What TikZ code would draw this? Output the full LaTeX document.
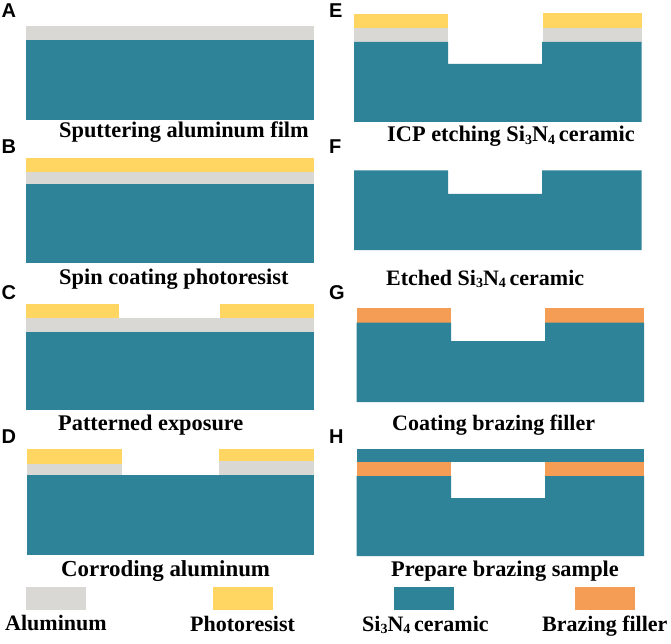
\documentclass[tikz,border=0pt]{standalone}
\usepackage{fontspec}
\setmainfont{Liberation Serif}
\newfontfamily\panelfont{Liberation Sans}
\definecolor{ceramic}{HTML}{2E8399}
\definecolor{alum}{HTML}{D9D8D4}
\definecolor{resist}{HTML}{FFD662}
\definecolor{filler}{HTML}{F59C55}
\newcommand{\lowsub}[1]{\raisebox{-0.12em}{\fontsize{14}{14}\selectfont #1}}
\tikzset{
  caption/.style={anchor=base west,inner sep=0pt,font=\fontsize{22}{22}\selectfont\bfseries},
  widecaption/.style={caption,font=\fontsize{22.35}{22}\selectfont\bfseries},
  widestcaption/.style={caption,font=\fontsize{22.9}{22}\selectfont\bfseries},
  panel/.style={anchor=base west,inner sep=0pt,font=\fontsize{20}{20}\selectfont\panelfont\bfseries},
}
\begin{document}
\begin{tikzpicture}[x=1pt,y=-1pt]
\useasboundingbox (0,0) rectangle (671,644);
% A
\fill[alum] (26,26) rectangle (313.5,40);
\fill[ceramic] (26,40) rectangle (313.5,120);
% B
\fill[resist] (26,158) rectangle (313.5,172);
\fill[alum] (26,172) rectangle (313.5,184);
\fill[ceramic] (26,184) rectangle (313.5,263);
% C
\fill[resist] (26,304) rectangle (119,318);
\fill[resist] (220,304) rectangle (313.5,318);
\fill[alum] (26,318) rectangle (313.5,332);
\fill[ceramic] (26,332) rectangle (313.5,410);
% D
\fill[resist] (26.5,449) rectangle (122,464);
\fill[resist] (219,449) rectangle (314,461);
\fill[alum] (26.5,464) rectangle (122,475);
\fill[alum] (219,461) rectangle (314,475);
\fill[ceramic] (26.5,475) rectangle (314,555);
% E
\fill[resist] (354,14.5) rectangle (448,28.5);
\fill[resist] (542.5,13) rectangle (641.5,28);
\fill[alum] (354,28.5) rectangle (448,42);
\fill[alum] (542.5,28) rectangle (641.5,42);
\fill[ceramic] (354,42) -- (448,42) -- (448,64) -- (542,64) -- (542,42) -- (641.5,42) -- (641.5,122) -- (354,122) -- cycle;
% F
\fill[ceramic] (354,170.5) -- (448,170.5) -- (448,194) -- (542,194) -- (542,170.5) -- (641.5,170.5) -- (641.5,250) -- (354,250) -- cycle;
% G
\fill[filler] (356.5,308) rectangle (451,322.5);
\fill[filler] (545,308) rectangle (644,322.5);
\fill[ceramic] (356.5,322.5) -- (451,322.5) -- (451,341) -- (545,341) -- (545,322.5) -- (644,322.5) -- (644,402) -- (356.5,402) -- cycle;
% H
\fill[ceramic] (356.5,448.5) rectangle (644,462);
\fill[filler] (356.5,462) rectangle (451,476);
\fill[filler] (545,462) rectangle (644,476);
\fill[ceramic] (356.5,476) -- (451,476) -- (451,498) -- (545,498) -- (545,476) -- (644,476) -- (644,556) -- (356.5,556) -- cycle;
% legend
\fill[alum] (26,587) rectangle (86,610);
\fill[resist] (213,587) rectangle (273,610);
\fill[ceramic] (394,587) rectangle (454,610);
\fill[filler] (574.5,587) rectangle (634.5,610);
% panel letters
\node[panel] (pa) at (1.5,18) {A};
\node[panel] (pb) at (1.5,154) {B};
\node[panel] (pc) at (1.5,299) {C};
\node[panel] (pd) at (1.5,443) {D};
\node[panel] (pe) at (329,18) {E};
\node[panel] (pf) at (329,154) {F};
\node[panel] (pg) at (329,299) {G};
\node[panel] (ph) at (329,443) {H};
% captions
\node[widecaption] (ca) at (59,138) {Sputtering aluminum film};
\node[widecaption] (cb) at (59,284) {Spin coating photoresist};
\node[widecaption] (cc) at (58,430) {Patterned exposure};
\node[widestcaption] (cd) at (61,576) {Corroding aluminum};
\node[widecaption] (ce) at (387,142) {ICP etching Si\lowsub{3}N\lowsub{4}\hspace{-0.08em} ceramic};
\node[caption] (cf) at (386,285) {Etched Si\lowsub{3}N\lowsub{4}\hspace{-0.08em} ceramic};
\node[caption] (cg) at (392,430) {Coating brazing filler};
\node[widecaption] (ch) at (391,576) {Prepare brazing sample};
\node[caption] (la) at (5,630) {Aluminum};
\node[caption] (lb) at (190,631) {Photoresist};
\node[caption] (lc) at (362,631) {Si\lowsub{3}N\lowsub{4}\hspace{-0.08em} ceramic};
\node[caption] (ld) at (542,631) {Brazing filler};
\end{tikzpicture}
\end{document}
